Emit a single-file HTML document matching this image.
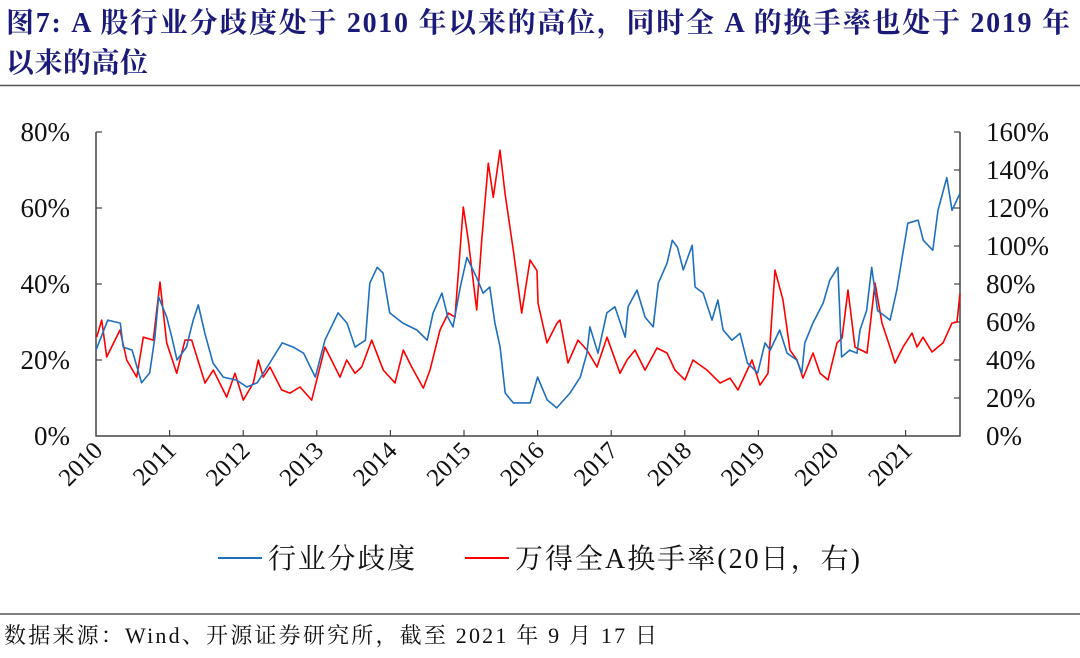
<!DOCTYPE html>
<html><head><meta charset="utf-8">
<style>
body{margin:0;width:1080px;height:653px;background:#fff;overflow:hidden;font-family:"Liberation Serif","Noto Serif CJK SC",serif;}
svg text{font-family:"Liberation Serif","Noto Serif CJK SC",serif;}
</style></head>
<body>
<svg id="chart" width="1080" height="653" xmlns="http://www.w3.org/2000/svg">
<text x="6" y="32" font-size="28" font-weight="bold" fill="#1c1a78" textLength="1064" lengthAdjust="spacing">图7:  A 股行业分歧度处于 2010 年以来的高位，同时全 A 的换手率也处于 2019 年</text>
<text x="6" y="72" font-size="28" font-weight="bold" fill="#1c1a78" textLength="142" lengthAdjust="spacing">以来的高位</text>
<line x1="0" y1="85.5" x2="1080" y2="85.5" stroke="#555" stroke-width="1.5"/>
<g id="axes"></g>
<g id="series"></g>
<g>
<line x1="218" y1="558" x2="262" y2="558" stroke="#1f6fbf" stroke-width="2"/>
<text x="268" y="568" font-size="28" fill="#111" textLength="147" lengthAdjust="spacing">行业分歧度</text>
<line x1="465" y1="558" x2="509" y2="558" stroke="#f00" stroke-width="2"/>
<text x="515" y="568" font-size="28" fill="#111" textLength="345" lengthAdjust="spacing">万得全A换手率(20日，右)</text>
</g>
<line x1="0" y1="614" x2="1080" y2="614" stroke="#555" stroke-width="1.5"/>
<text x="4" y="643" font-size="22" fill="#111" textLength="653" lengthAdjust="spacing">数据来源：Wind、开源证券研究所，截至 2021 年 9 月 17 日</text>
</svg>
<script>
const years = [2010,2011,2012,2013,2014,2015,2016,2017,2018,2019,2020,2021];
const leftTicks = [0,20,40,60,80];
const rightTicks = [0,20,40,60,80,100,120,140,160];
const blueDates = [2010.0,2010.16,2010.33,2010.37,2010.49,2010.62,2010.73,2010.80,2010.85,2010.96,2011.03,2011.10,2011.23,2011.32,2011.39,2011.48,2011.59,2011.73,2011.91,2012.05,2012.19,2012.36,2012.53,2012.68,2012.82,2012.98,2013.11,2013.29,2013.41,2013.52,2013.66,2013.72,2013.82,2013.90,2013.99,2014.17,2014.36,2014.50,2014.58,2014.70,2014.78,2014.85,2014.95,2015.04,2015.17,2015.26,2015.35,2015.42,2015.49,2015.56,2015.67,2015.90,2016.0,2016.13,2016.26,2016.44,2016.58,2016.67,2016.71,2016.82,2016.94,2017.05,2017.19,2017.23,2017.35,2017.46,2017.57,2017.64,2017.76,2017.83,2017.90,2017.98,2018.10,2018.14,2018.25,2018.37,2018.45,2018.52,2018.64,2018.75,2018.85,2018.99,2019.09,2019.16,2019.29,2019.39,2019.52,2019.59,2019.63,2019.74,2019.88,2019.97,2020.08,2020.13,2020.24,2020.34,2020.38,2020.47,2020.54,2020.62,2020.79,2020.88,2021.03,2021.17,2021.24,2021.37,2021.44,2021.56,2021.63,2021.74];
const blueValues = [22.6,30.5,29.7,23.4,22.6,14,16.6,26,36.6,31.3,26,20,23.4,30.5,34.5,27,19.2,15.5,14.7,12.9,14,19.2,24.5,23.4,21.8,15.5,25.2,32.4,29.7,23.4,25.2,40.2,44.4,42.9,32.4,29.7,27.9,25.2,32.4,37.6,31.3,28.7,39.2,47,41.8,37.6,39.2,29.7,23.4,11.3,8.7,8.7,15.5,9.5,7.4,11.3,15.5,21.8,28.7,21.8,32.4,34,26,34,38.4,31.3,28.7,40.2,45.5,51.5,49.7,43.7,50.2,39.2,37.6,30.5,35.8,27.9,25.2,27,19.2,16.6,24.5,22.6,27.9,21.8,20,16.6,24.5,29.7,35,41,44.4,20.8,22.6,21.8,27.9,33,44.4,33,30.5,38.4,56,56.8,51.5,48.9,59.4,68,59.4,63.9];
const redDates = [2010.01,2010.077,2010.145,2010.326,2010.417,2010.553,2010.643,2010.779,2010.870,2010.961,2011.096,2011.209,2011.300,2011.481,2011.594,2011.776,2011.889,2012.001,2012.137,2012.205,2012.273,2012.364,2012.523,2012.636,2012.772,2012.931,2013.111,2013.315,2013.406,2013.519,2013.610,2013.746,2013.904,2014.062,2014.175,2014.289,2014.447,2014.538,2014.674,2014.787,2014.878,2014.991,2015.058,2015.173,2015.240,2015.330,2015.398,2015.489,2015.557,2015.670,2015.784,2015.897,2015.992,2016.005,2016.128,2016.264,2016.304,2016.413,2016.549,2016.671,2016.807,2016.943,2017.120,2017.215,2017.323,2017.459,2017.622,2017.758,2017.867,2018.003,2018.111,2018.302,2018.478,2018.614,2018.723,2018.913,2019.022,2019.130,2019.226,2019.334,2019.429,2019.524,2019.606,2019.742,2019.837,2019.946,2020.068,2020.136,2020.217,2020.312,2020.476,2020.584,2020.679,2020.788,2020.856,2020.965,2021.087,2021.155,2021.236,2021.359,2021.508,2021.630,2021.698,2021.739];
const redValues = [52,61,41.6,55.8,40,31,52,50.5,81,49,33,50.5,50.5,27.9,34.7,20.5,33,18.9,27.9,40,31,36.3,24.2,22.6,25.8,18.9,46.8,31,40,33,36.3,50.5,34.7,27.9,45.2,36.3,25.2,34.7,55.8,64.7,62.6,120.5,103,66.3,103,143.6,125.7,150.4,127.8,97.8,64.7,92.6,87,70,49,59.4,61,38.4,50.5,45.2,36.3,52,33,40,45.2,34.7,46.3,43.7,34.7,29.5,40,34.7,27.9,30.5,24.2,40,26.8,33,87.3,71.5,45.2,40,30.5,43.7,33,29.5,49,51.5,76.8,46.8,43.7,80.5,59.4,46.8,38.4,46.8,54.2,46.8,52,44.2,49,59.4,60,75];

const NS='http://www.w3.org/2000/svg';
const X0=96,X1=960,Y0=436,Y1=132;
const xScale=d=>X0+(d-2010)*73.6;
const yL=v=>Y0-(v/80)*(Y0-Y1);
const yR=v=>Y0-(v/160)*(Y0-Y1);
function mk(tag,attrs,parent){const e=document.createElementNS(NS,tag);for(const k in attrs)e.setAttribute(k,attrs[k]);parent.appendChild(e);return e;}
const axes=document.getElementById('axes');
const series=document.getElementById('series');
let ax=mk('path',{d:`M${X0},${Y1}V${Y0}H${X1}V${Y1}`,fill:'none',stroke:'#444','stroke-width':1.5},axes);


leftTicks.forEach(v=>{
  const y=yL(v);
  if(v>0){const t=mk('line',{x1:X0,y1:y,x2:X0+6,y2:y,stroke:'#444','stroke-width':1.2},axes);
  
  }
  const l=mk('text',{x:X0-26,y:y+9,'font-size':27,'text-anchor':'end',fill:'#111'},axes);
  l.textContent=v+'%';
  
  
});
rightTicks.forEach(v=>{
  const y=yR(v);
  if(v>0){const t=mk('line',{x1:X1-6,y1:y,x2:X1,y2:y,stroke:'#444','stroke-width':1.2},axes);
  
  }
  const l=mk('text',{x:X1+26,y:y+9,'font-size':27,fill:'#111'},axes);
  l.textContent=v+'%';
  
  
});
years.forEach(yr=>{
  const x=xScale(yr);
  if(yr>2010){const t=mk('line',{x1:x,y1:Y0,x2:x,y2:Y0-6,stroke:'#444','stroke-width':1.2},axes);
  
  }
  const l=mk('text',{x:x+8,y:Y0+16,'font-size':25,'text-anchor':'end',fill:'#111',transform:`rotate(-45 ${x+8} ${Y0+16})`},axes);
  l.textContent=yr;
  
  
});
const bp=blueDates.map((d,i)=>xScale(d).toFixed(1)+','+yL(blueValues[i]).toFixed(1)).join(' ');
const rp=redDates.map((d,i)=>xScale(d).toFixed(1)+','+yR(redValues[i]).toFixed(1)).join(' ');
const rl=mk('polyline',{points:rp,fill:'none',stroke:'#f00','stroke-width':1.6,'stroke-linejoin':'round'},series);


const bl=mk('polyline',{points:bp,fill:'none',stroke:'#1f6fbf','stroke-width':1.6,'stroke-linejoin':'round'},series);


</script>
</body></html>
